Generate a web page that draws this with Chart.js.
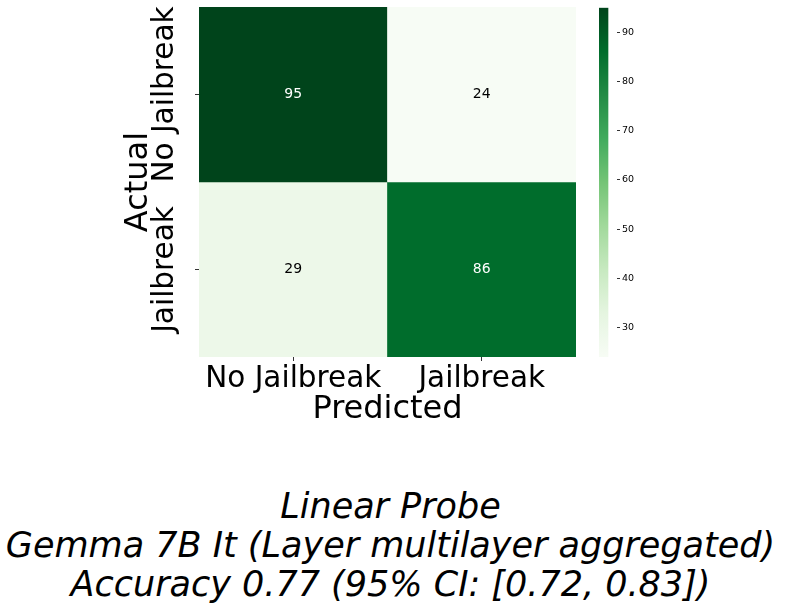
<!DOCTYPE html>
<html>
<head>
<meta charset="utf-8">
<script src="https://cdn.jsdelivr.net/npm/chart.js@4.4.1/dist/chart.umd.min.js"></script>
<style>
  html, body { margin: 0; padding: 0; background: #fff; }
  #wrap { position: relative; width: 793px; height: 609px; overflow: hidden; }
  #main { position: absolute; left: 0; top: 0; }
  #cbar { position: absolute; left: 599px; top: 0; }
  #title { position: absolute; left: 0; top: 487px; width: 781px; text-align: center;
           font-family: "DejaVu Sans", sans-serif; font-style: italic; font-size: 35px;
           line-height: 39px; color: #000; white-space: nowrap; }
</style>
</head>
<body>
<div id="wrap">
  <canvas id="main" width="600" height="440"></canvas>
  <canvas id="cbar" width="60" height="370"></canvas>
  <div id="title">Linear Probe<br>Gemma 7B It (Layer multilayer aggregated)<br>Accuracy 0.77 (95% CI: [0.72, 0.83])</div>
</div>
<script>
// ---- data ----
const predictedLabels = ["No Jailbreak", "Jailbreak"];
const actualLabels = ["No Jailbreak", "Jailbreak"];
const rowNoJailbreak = [95, 24];
const rowJailbreak = [29, 86];
const colorbarTicks = [30, 40, 50, 60, 70, 80, 90];
const vmin = 24, vmax = 95;

// ---- Greens colormap ----
const greens = ["#f7fcf5","#e5f5e0","#c7e9c0","#a1d99b","#74c476","#41ab5d","#238b45","#006d2c","#00441b"];
function hex2rgb(h){ return [parseInt(h.substr(1,2),16), parseInt(h.substr(3,2),16), parseInt(h.substr(5,2),16)]; }
function cmap(v){
  let t = (v - vmin) / (vmax - vmin);
  t = Math.max(0, Math.min(1, t));
  const p = t * (greens.length - 1);
  const i = Math.min(Math.floor(p), greens.length - 2);
  const f = p - i;
  const a = hex2rgb(greens[i]), b = hex2rgb(greens[i+1]);
  const c = a.map((x, k) => Math.round(x + (b[k]-x)*f));
  return `rgb(${c[0]},${c[1]},${c[2]})`;
}

const FONT = "'DejaVu Sans', sans-serif";
Chart.defaults.font.family = FONT;
Chart.defaults.color = "#000";

const cellLabels = {
  id: 'cellLabels',
  afterDatasetsDraw(chart) {
    const ctx = chart.ctx;
    ctx.save();
    ctx.font = "14px " + FONT;
    ctx.textAlign = "center";
    ctx.textBaseline = "middle";
    chart.data.datasets.forEach((ds, di) => {
      const meta = chart.getDatasetMeta(di);
      meta.data.forEach((el, i) => {
        const v = ds.values[i];
        const t = (v - vmin) / (vmax - vmin);
        ctx.fillStyle = t > 0.5 ? "#fff" : "#000";
        const c = el.getCenterPoint();
        ctx.fillText(String(v), c.x, c.y);
      });
    });
    ctx.restore();
  }
};

const rows = [rowNoJailbreak, rowJailbreak];
const datasets = rows.map((vals, r) => ({
  label: actualLabels[r],
  values: vals,
  data: vals.map(() => [rows.length - 1 - r, rows.length - r]),
  backgroundColor: vals.map(cmap),
  borderWidth: 0,
  barPercentage: 1,
  categoryPercentage: 1,
  grouped: false
}));

new Chart(document.getElementById("main"), {
  type: "bar",
  data: { labels: predictedLabels, datasets },
  options: {
    responsive: false,
    animation: false,
    layout: { padding: { top: 7, right: 24, left: 0, bottom: 0 } },
    plugins: { legend: { display: false }, tooltip: { enabled: false }, title: { display: false } },
    scales: {
      x: {
        type: "category",
        offset: true,
        grid: { display: true, drawOnChartArea: false, drawTicks: true, tickLength: 4, offset: false, color: "#333", lineWidth: 1 },
        border: { display: false },
        ticks: { font: { size: 29.5 }, color: "#000", padding: 1, maxRotation: 0, minRotation: 0 },
        title: { display: true, text: "Predicted", font: { size: 32 }, color: "#000", padding: { top: 0, bottom: 11 } },
        afterFit(s) { s.height = 83; }
      },
      y: {
        type: "linear",
        min: 0, max: 2,
        afterBuildTicks(s) { s.ticks = actualLabels.map((_, r) => ({ value: rows.length - 0.5 - r })); },
        grid: { display: true, drawOnChartArea: false, drawTicks: true, tickLength: 4, color: "#333", lineWidth: 1 },
        border: { display: false },
        ticks: {
          font: { size: 29.5 }, color: "#000", minRotation: 90, maxRotation: 90, crossAlign: "center", padding: -58.5,
          callback(v) { const r = Math.round(rows.length - 0.5 - v); return actualLabels[r]; }
        },
        title: { display: true, text: "Actual", font: { size: 32 }, color: "#000", padding: { top: 119, bottom: 0 } },
        afterFit(s) { s.width = 199; }
      }
    }
  },
  plugins: [cellLabels]
});

// ---- colorbar ----
new Chart(document.getElementById("cbar"), {
  type: "bar",
  data: {
    labels: [""],
    datasets: [{
      data: [[vmin, vmax]],
      borderWidth: 0,
      barPercentage: 1,
      categoryPercentage: 1,
      backgroundColor(ctx) {
        const ca = ctx.chart.chartArea;
        if (!ca) return greens[4];
        const ys = ctx.chart.scales.y;
        const g = ctx.chart.ctx.createLinearGradient(0, ys.getPixelForValue(vmin), 0, ys.getPixelForValue(vmax));
        greens.forEach((c, i) => g.addColorStop(i / (greens.length - 1), c));
        return g;
      }
    }]
  },
  options: {
    responsive: false,
    animation: false,
    layout: { padding: { top: 7, bottom: 13, left: 0, right: 0 } },
    plugins: { legend: { display: false }, tooltip: { enabled: false } },
    scales: {
      x: { display: false, offset: false },
      y: {
        position: "right",
        min: vmin, max: vmax,
        afterBuildTicks(s) { s.ticks = colorbarTicks.map(v => ({ value: v })); },
        grid: { display: true, drawOnChartArea: false, drawTicks: true, tickLength: 3, color: "#333" },
        border: { display: false },
        ticks: { font: { size: 9.5 }, color: "#000", padding: 2 },
        afterFit(s) { s.width = 42; }
      }
    }
  }
});
</script>
</body>
</html>
